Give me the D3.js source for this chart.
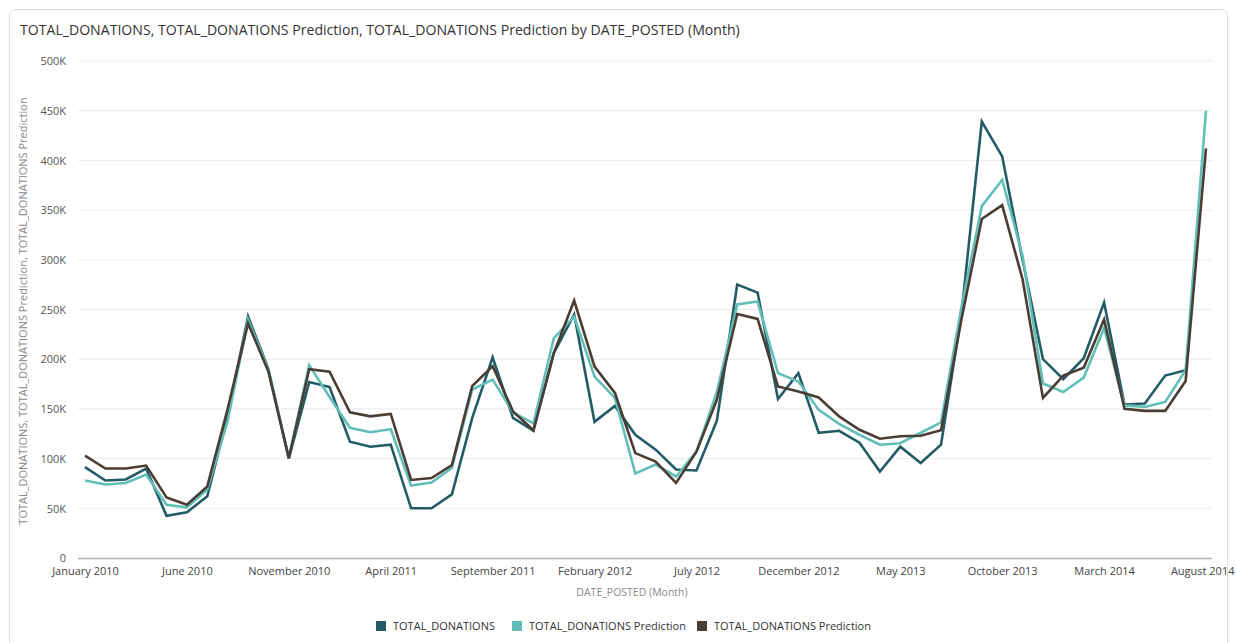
<!DOCTYPE html>
<html>
<head>
<meta charset="utf-8">
<script src="https://cdn.jsdelivr.net/npm/d3@7"></script>
<style>
  html, body { margin: 0; padding: 0; background: #fff; }
  svg { display: block; font-family: "Open Sans", "Noto Sans", sans-serif; }
</style>
</head>
<body>
<svg id="chart" width="1236" height="643"></svg>
<script>
// Monthly categories, January 2010 – August 2014
const months = d3.timeMonth.range(new Date(2010, 0, 1), new Date(2014, 8, 1));
const monthFmt = d3.timeFormat("%B %Y");
const monthLabels = months.map(monthFmt);

// Every fifth month gets a tick label
const tickLabels = ["January 2010", "June 2010", "November 2010", "April 2011", "September 2011",
  "February 2012", "July 2012", "December 2012", "May 2013", "October 2013", "March 2014", "August 2014"];

const yTicks = [0, 50000, 100000, 150000, 200000, 250000, 300000, 350000, 400000, 450000, 500000];

// Series values
const totalDonations = [
  91500, 78000, 79000, 90000, 42500, 46000, 62000, 143000, 243000, 190000,
  100000, 177000, 172000, 117000, 112000, 114000, 50000, 50000, 64000, 141000,
  202000, 141000, 128000, 206000, 245000, 137000, 153000, 124000, 109000, 89000,
  88000, 138000, 275000, 267000, 160000, 186000, 126000, 128000, 116000, 87000,
  112000, 95500, 114000, 245000, 439000, 404000, 300000, 200000, 180000, 201000,
  257000, 154500, 155500, 183500, 189000, null
];
const predictionA = [
  78000, 74000, 75500, 84000, 53500, 51000, 69000, 138000, 240000, 189000,
  100500, 194000, 162000, 131000, 126500, 129500, 73000, 76000, 90500, 169500,
  179500, 146500, 135500, 221000, 243000, 182500, 161000, 85000, 94000, 82000,
  107000, 167000, 255000, 258000, 186000, 177500, 149000, 135000, 124000, 114000,
  115500, 126000, 136500, 252000, 354000, 380500, 304000, 175500, 167000, 181500,
  231500, 153500, 152000, 157000, 189000, 450000
];
const predictionB = [
  103000, 90000, 90000, 93000, 61000, 53500, 72000, 150000, 236000, 187500,
  100500, 190000, 187500, 146500, 142500, 145000, 78500, 80500, 93500, 173000,
  193000, 147500, 128500, 206000, 259000, 192500, 166000, 105500, 97000, 75500,
  107000, 159000, 245500, 240500, 172500, 167500, 161500, 142500, 129000, 120000,
  122500, 123000, 128500, 240000, 341000, 355000, 280500, 161000, 183500, 191500,
  240000, 150000, 148000, 148000, 178000, 412000
];

const seriesNames = ["TOTAL_DONATIONS", "TOTAL_DONATIONS Prediction", "TOTAL_DONATIONS Prediction"];
const seriesColors = ["#245c65", "#62bfb7", "#4a3d36"];
const seriesValues = [totalDonations, predictionA, predictionB];

const svg = d3.select("#chart");

// Card outline
svg.append("rect")
  .attr("x", 9.5).attr("y", 9.5).attr("width", 1218).attr("height", 660)
  .attr("rx", 6).attr("fill", "#fff").attr("stroke", "#dcdcdc");

svg.append("text")
  .attr("x", 20).attr("y", 35)
  .attr("font-size", 14.1).attr("fill", "#333")
  .text("TOTAL_DONATIONS, TOTAL_DONATIONS Prediction, TOTAL_DONATIONS Prediction by DATE_POSTED (Month)");

const x = d3.scalePoint().domain(monthLabels).range([85, 1206]);
const y = d3.scaleLinear().domain([0, 500000]).range([558, 61]);

// Horizontal grid
svg.append("g")
  .selectAll("line")
  .data(yTicks.filter(d => d > 0))
  .join("line")
  .attr("x1", 78).attr("x2", 1212)
  .attr("y1", d => y(d)).attr("y2", d => y(d))
  .attr("stroke", "#ebebeb").attr("stroke-width", 1);

// Y axis labels
const yAxis = d3.axisLeft(y)
  .tickValues(yTicks)
  .tickSize(0)
  .tickPadding(0)
  .tickFormat(d => d === 0 ? "0" : (d / 1000) + "K");
const gy = svg.append("g").attr("transform", "translate(66,0)").call(yAxis);
gy.select(".domain").remove();
gy.selectAll("text")
  .attr("font-family", "\"Open Sans\", \"Noto Sans\", sans-serif")
  .attr("font-size", 11).attr("fill", "#555").attr("dy", "0.34em");

// X axis
const xAxis = d3.axisBottom(x)
  .tickValues(tickLabels)
  .tickSize(0)
  .tickPadding(9);
const gx = svg.append("g").attr("transform", "translate(0,558)").call(xAxis);
gx.select(".domain").remove();
gx.selectAll("text")
  .attr("font-family", "\"Open Sans\", \"Noto Sans\", sans-serif")
  .attr("font-size", 11).attr("fill", "#444");
gx.selectAll("text").filter(d => d === "August 2014").attr("text-anchor", "end").attr("dx", 28);

svg.append("line")
  .attr("x1", 78).attr("x2", 1212).attr("y1", 558.5).attr("y2", 558.5)
  .attr("stroke", "#b5b5b5").attr("stroke-width", 1.5);

// Axis titles
svg.append("text")
  .attr("x", 632).attr("y", 596).attr("text-anchor", "middle")
  .attr("font-size", 10.5).attr("fill", "#8a8a8a")
  .text("DATE_POSTED (Month)");

svg.append("text")
  .attr("transform", "translate(27,311) rotate(-90)")
  .attr("text-anchor", "middle")
  .attr("font-size", 11).attr("fill", "#8a8a8a")
  .text("TOTAL_DONATIONS, TOTAL_DONATIONS Prediction, TOTAL_DONATIONS Prediction");

// Series lines
const line = d3.line()
  .defined(d => d.v !== null)
  .x(d => x(d.m))
  .y(d => y(d.v));

seriesValues.forEach((vals, i) => {
  svg.append("path")
    .datum(vals.map((v, j) => ({ m: monthLabels[j], v })))
    .attr("fill", "none")
    .attr("stroke", seriesColors[i])
    .attr("stroke-width", 2.6)
    .attr("stroke-linejoin", "miter")
    .attr("d", line);
});

// Legend
const legendX = [376, 512, 697];
const lg = svg.append("g");
seriesNames.forEach((name, i) => {
  const g = lg.append("g").attr("transform", `translate(${legendX[i]},621)`);
  g.append("rect").attr("width", 10).attr("height", 10).attr("fill", seriesColors[i]);
  g.append("text").attr("x", 17).attr("y", 9)
    .attr("font-size", 11).attr("fill", "#333").text(name);
});
</script>
</body>
</html>
